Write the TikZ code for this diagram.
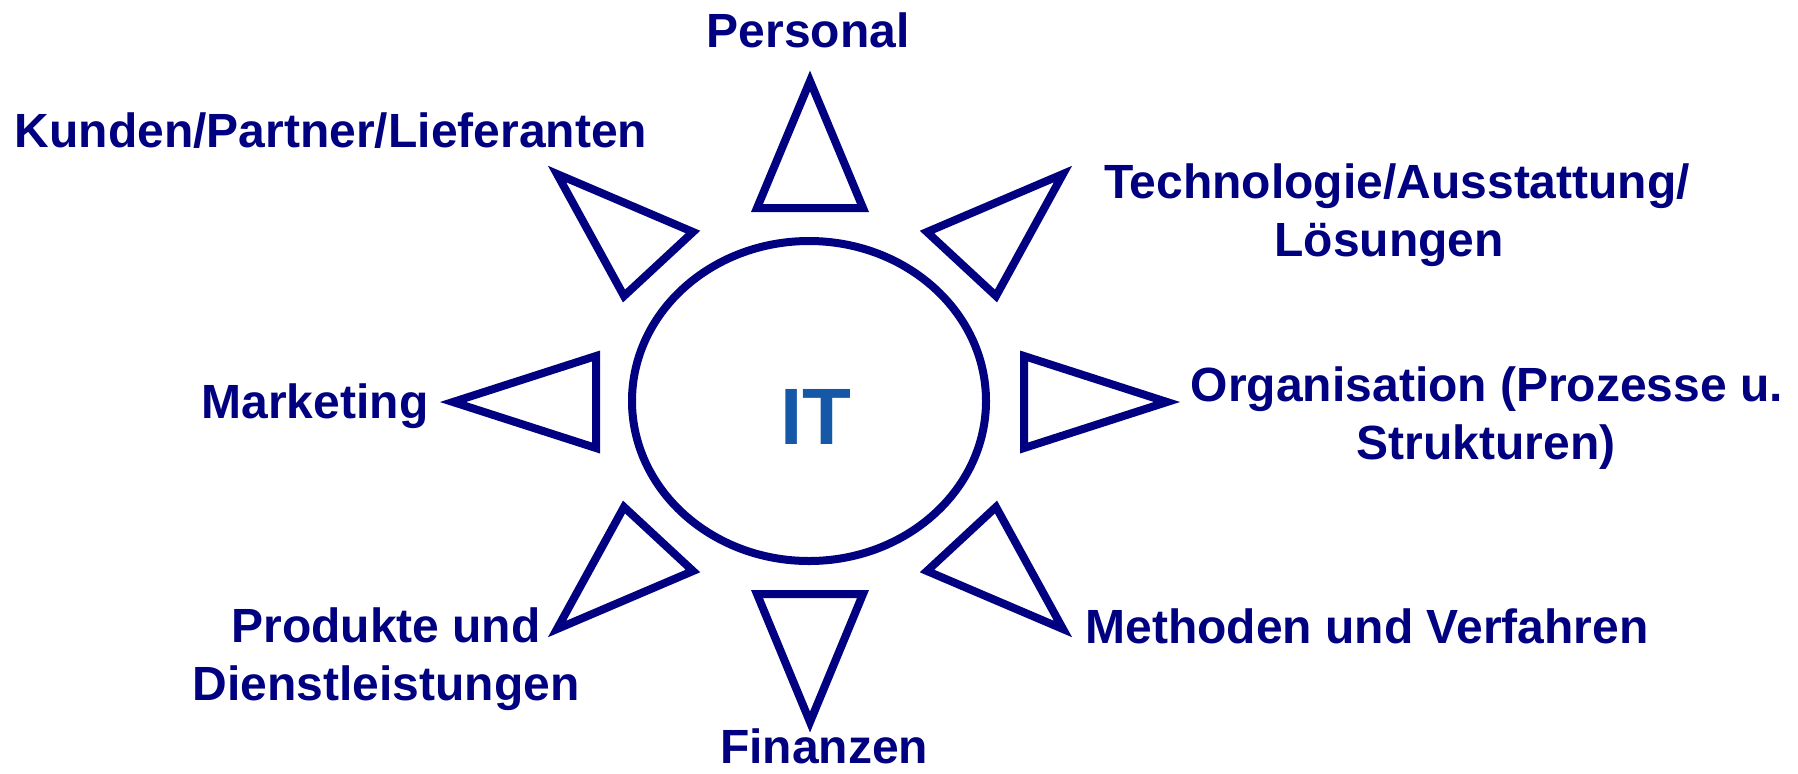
\documentclass[tikz,border=0pt]{standalone}
\usepackage{fontspec}
\setmainfont{Liberation Sans}
\definecolor{navy}{RGB}{0,0,128}
\definecolor{itblue}{RGB}{22,88,168}
\begin{document}
\begin{tikzpicture}[x=0.5pt,y=-0.5pt,
  tri/.style={draw=navy,line width=4pt,line join=miter},
  lbl/.style={text=navy,font=\fontsize{24}{29}\selectfont\bfseries,inner sep=0pt,anchor=base}]
\useasboundingbox (0,0) rectangle (1798,773);
% central ellipse
\draw[tri] (809,401) ellipse [x radius=177, y radius=160];
\node[text=itblue,font=\fontsize{40}{48}\selectfont\bfseries,inner sep=0pt,anchor=base] (it) at (816,444) {IT};
% triangles
\draw[tri] (810,81) -- (757,208) -- (863,208) -- cycle;
\draw[tri] (810,722) -- (757,594) -- (863,594) -- cycle;
\draw[tri] (453,402) -- (596,356) -- (596,448) -- cycle;
\draw[tri] (1167,402) -- (1024,356) -- (1024,448) -- cycle;
\draw[tri] (557,174) -- (693,232) -- (624,296) -- cycle;
\draw[tri] (1063,174) -- (927,232) -- (996,296) -- cycle;
\draw[tri] (557,629) -- (693,571) -- (624,507) -- cycle;
\draw[tri] (1063,629) -- (927,571) -- (996,507) -- cycle;
% labels
\node[lbl] (personal) at (808,47) {Personal};
\node[lbl] (kunden) at (331,147) {Kunden/Partner/Lieferanten};
\node[lbl] (tech1) at (1397,198) {Technologie/Ausstattung/};
\node[lbl] (tech2) at (1389,256) {Lösungen};
\node[lbl] (org1) at (1487,401) {Organisation (Prozesse u.};
\node[lbl] (org2) at (1486,459) {Strukturen)};
\node[lbl] (marketing) at (315,418) {Marketing};
\node[lbl] (methoden) at (1367,643) {Methoden und Verfahren};
\node[lbl] (prod1) at (386,642) {Produkte und};
\node[lbl] (prod2) at (386,700) {Dienstleistungen};
\node[lbl] (finanzen) at (824,763) {Finanzen};
\end{tikzpicture}
\end{document}
